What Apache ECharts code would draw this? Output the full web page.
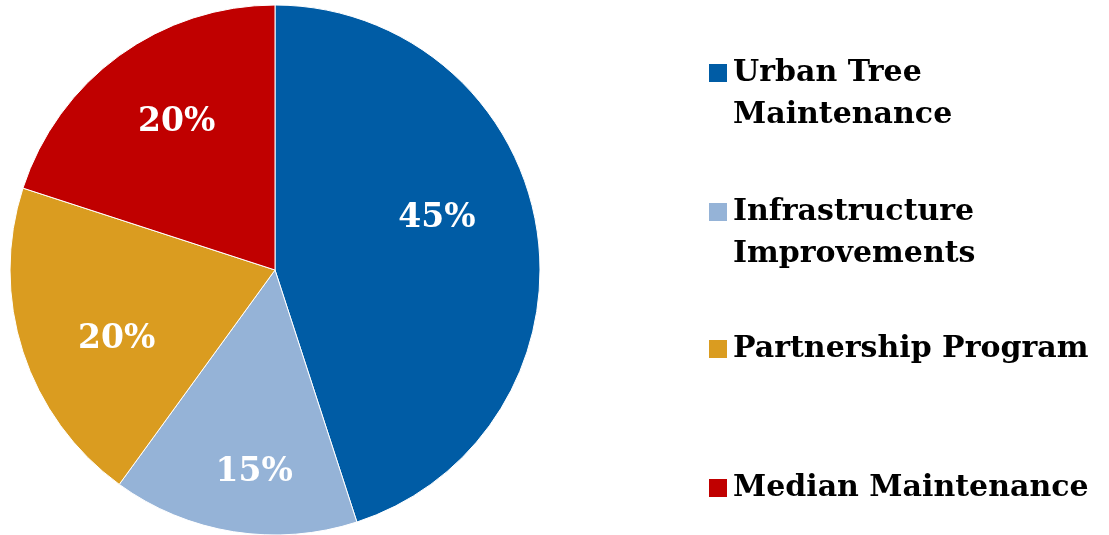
<!DOCTYPE html>
<html>
<head>
<meta charset="utf-8">
<script src="https://cdn.jsdelivr.net/npm/echarts@6/dist/echarts.min.js"></script>
<style>
  html, body { margin: 0; padding: 0; background: #fff; }
  #chart { width: 1109px; height: 535px; }
</style>
</head>
<body>
<div id="chart"></div>
<script>
const categories = ['Urban Tree Maintenance', 'Infrastructure Improvements', 'Partnership Program', 'Median Maintenance']
const shares = [45, 15, 20, 20]
const legendLabels = ['Urban Tree\nMaintenance', 'Infrastructure\nImprovements', 'Partnership Program', 'Median Maintenance']
const colors = ['#005ca5', '#95b3d7', '#da9c20', '#c00000']

const cx = 275, cy = 270, radius = 265
const serif = '"DejaVu Serif", "Liberation Serif", serif'
const legendTops = [10, 149, 328, 467]
// Excel places the labels a little off the mid-angle, nudge them to match
const labelNudge = [[-20, -23], [8, 20], [17, 12], [10, 2]]

const chart = echarts.init(document.getElementById('chart'))

const legends = categories.map((name, i) => ({
  data: [name],
  orient: 'vertical',
  left: 707,
  top: legendTops[i],
  padding: 0,
  itemWidth: 20,
  itemHeight: 20,
  icon: 'rect',
  selectedMode: false,
  formatter: () => (legendLabels[i].includes('\n') ? '\n' : '') + legendLabels[i],
  textStyle: {
    fontFamily: serif,
    fontWeight: 'bold',
    fontSize: 30,
    lineHeight: 42,
    color: '#000'
  }
}))

chart.setOption({
  animation: false,
  color: colors,
  legend: legends,
  series: [{
    type: 'pie',
    center: [cx, cy],
    radius: radius,
    startAngle: 90,
    clockwise: true,
    silent: true,
    itemStyle: { borderColor: '#fff', borderWidth: 1 },
    label: {
      show: true,
      position: 'inside',
      formatter: p => p.value + '%',
      color: '#fff',
      fontFamily: serif,
      fontWeight: 'bold',
      fontSize: 33
    },
    labelLine: { show: false },
    labelLayout: p => {
      const mx = p.labelRect.x + p.labelRect.width / 2
      const my = p.labelRect.y + p.labelRect.height / 2
      const k = 1.36
      const n = labelNudge[p.dataIndex]
      return {
        x: cx + (mx - cx) * k + n[0],
        y: cy + (my - cy) * k + n[1],
        align: 'center',
        verticalAlign: 'middle'
      }
    },
    data: categories.map((name, i) => ({ name, value: shares[i] }))
  }]
})
</script>
</body>
</html>
